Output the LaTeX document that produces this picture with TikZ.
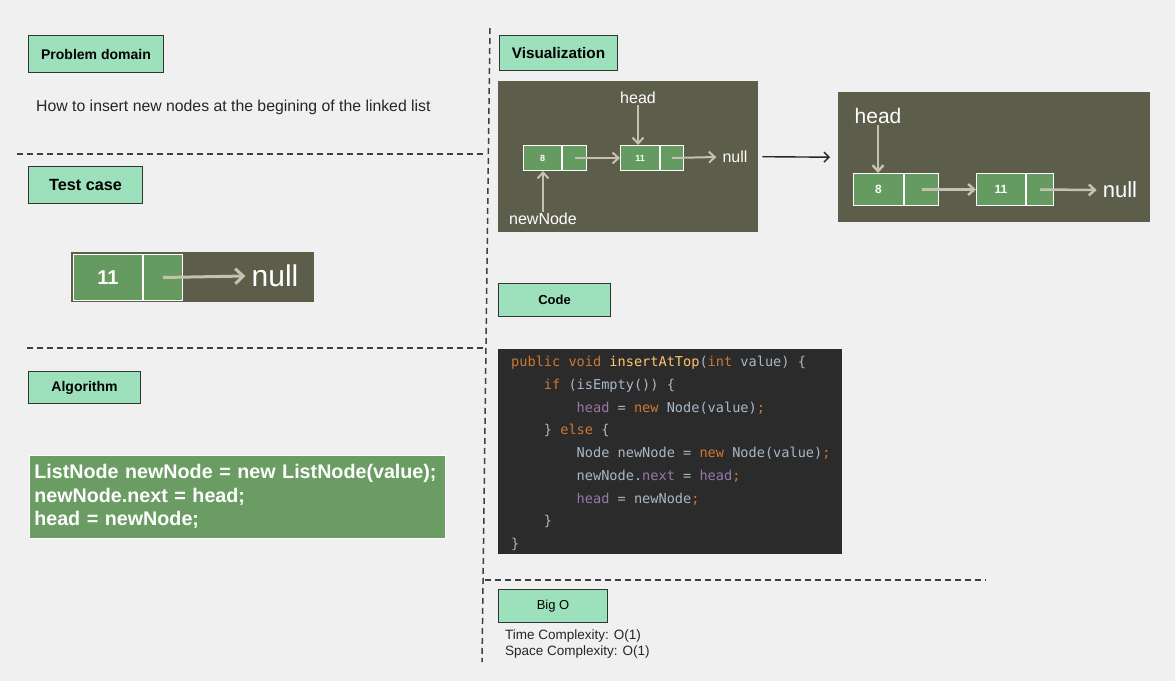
\documentclass[tikz,border=0pt]{standalone}
\usepackage{fontspec}
\setmainfont{Liberation Sans}
\setmonofont{DejaVu Sans Mono}
\usetikzlibrary{arrows.meta,positioning}

\definecolor{pagebg}{HTML}{F0F0F0}
\definecolor{tagmint}{HTML}{9DE0BC}
\definecolor{scenebg}{HTML}{5C5E4B}
\definecolor{cellgreen}{HTML}{659B60}
\definecolor{algogreen}{HTML}{6A9C64}
\definecolor{ptrgray}{HTML}{C2C2AE}
\definecolor{codebg}{HTML}{2B2B2B}
\definecolor{cdtxt}{HTML}{A9B7C6}
\definecolor{cdkw}{HTML}{CC7832}
\definecolor{cdfld}{HTML}{9876AA}
\definecolor{cdfn}{HTML}{FFC66D}

\newcommand{\kw}[1]{\textcolor{cdkw}{#1}}
\newcommand{\fld}[1]{\textcolor{cdfld}{#1}}
\newcommand{\fn}[1]{\textcolor{cdfn}{#1}}
\newcommand{\ind}[1]{\phantom{#1}}

\begin{document}
\begin{tikzpicture}[
    x=1pt, y=-1pt,
    tag/.style={draw=black!80, line width=1pt, fill=tagmint, anchor=north west, inner sep=0pt, font=\bfseries\fontsize{14}{16}\selectfont},
    scene/.style={fill=scenebg, anchor=north west, inner sep=0pt},
    cell/.style={draw=white, line width=1pt, fill=cellgreen, text=white, inner sep=0pt, font=\bfseries\fontsize{#1}{#1}\selectfont},
    cell/.default=9,
    ptr/.style={draw=ptrgray, line width=2pt, -{Straight Barb[length=6pt,width=11pt]}},
    lbl/.style={text=white, inner sep=1pt, font=\fontsize{#1}{#1}\selectfont},
    lbl/.default=16,
    dashline/.style={draw=black!75, line width=1.5pt, dash pattern=on 6pt off 4pt}
]
    \useasboundingbox[fill=pagebg] (0,0) rectangle (1175,681);

    % section borders
    \draw[dashline] (490,28) -- (482,662);
    \draw[dashline] (17,154) -- (487,154);
    \draw[dashline] (27,348) -- (485,348);
    \draw[dashline] (485,580) -- (986,580);

    % left column
    \node[tag, minimum width=135pt, minimum height=37pt] (prob) at (28,35) {Problem domain};
    \node[anchor=west, inner sep=0pt, text=black!85, font=\fontsize{15.8}{18}\selectfont] (probtxt) at (36,107) {How to insert new nodes at the begining of the linked list};

    \node[tag, minimum width=114pt, minimum height=37pt, font=\bfseries\fontsize{16.2}{18}\selectfont] (test) at (28,166) {Test case};
    \node[scene, minimum width=243pt, minimum height=50pt] (tbg) at (71,252) {};
    \node[cell=20, minimum width=69pt, minimum height=46pt, anchor=north west] (t11) at (73,254) {11};
    \node[cell, minimum width=39pt, minimum height=46pt, right=0pt of t11] (t11p) {};
    \node[lbl=30, inner sep=6pt] (tnull) at (275,276) {null};
    \draw[ptr, line width=3pt, -{Straight Barb[length=8pt,width=15pt]}] (t11p.center) -- (tnull.west);

    \node[tag, minimum width=112pt, minimum height=32pt] (algo) at (28,371) {Algorithm};
    \node[anchor=north west, fill=algogreen, draw=white!60, line width=0.6pt, minimum width=416pt, minimum height=83pt,
          text width=406pt, inner sep=5pt, align=left, text=white,
          font=\bfseries\fontsize{19.7}{23.5}\selectfont] (algobox) at (29,455)
        {ListNode newNode = new ListNode(value);\\newNode.next = head;\\head = newNode;};

    % visualization
    \node[tag, minimum width=118pt, minimum height=35pt, font=\bfseries\fontsize{15.3}{17}\selectfont] (vis) at (499,35) {Visualization};

    \node[scene, minimum width=260pt, minimum height=151pt] (vbg) at (498,81) {};
    \node[cell, minimum width=38pt, minimum height=25pt, anchor=north west] (v8) at (523,145) {8};
    \node[cell, minimum width=24pt, minimum height=25pt, right=0pt of v8] (v8p) {};
    \node[cell, minimum width=39pt, minimum height=25pt, anchor=north west] (v11) at (620,145) {11};
    \node[cell, minimum width=23pt, minimum height=25pt, right=0pt of v11] (v11p) {};
    \node[lbl] (vhead) at (638,98) {head};
    \node[lbl, inner sep=6pt] (vnull) at (735,157) {null};
    \node[lbl] (vnew) at (543,219) {newNode};
    \draw[ptr] (vhead.south) -- (vhead.south |- v11.north);
    \draw[ptr] (v8p.center) -- (v11.west);
    \draw[ptr] (v11p.center) -- (vnull.west);
    \draw[ptr] (vnew.north) -- (vnew.north |- v8.south);

    \node[scene, minimum width=312pt, minimum height=130pt] (wbg) at (838,92) {};
    \node[cell=12, minimum width=50pt, minimum height=32pt, anchor=north west] (w8) at (853,173) {8};
    \node[cell, minimum width=34pt, minimum height=32pt, right=0pt of w8] (w8p) {};
    \node[cell=12, minimum width=49pt, minimum height=32pt, anchor=north west] (w11) at (976,173) {11};
    \node[cell, minimum width=27pt, minimum height=32pt, right=0pt of w11] (w11p) {};
    \node[lbl=21] (whead) at (878,116) {head};
    \node[lbl=22, inner sep=6pt] (wnull) at (1120,190) {null};
    \draw[ptr, line width=2.5pt] (whead.south) -- (whead.south |- w8.north);
    \draw[ptr, line width=2.5pt] (w8p.center) -- (w11.west);
    \draw[ptr, line width=2.5pt] (w11p.center) -- (wnull.west);

    \draw[black!85, line width=1.4pt, -{Straight Barb[length=5pt,width=10pt]}] ([xshift=4pt]vbg.east) -- ([xshift=-8pt]wbg.west);

    % code
    \node[tag, minimum width=112pt, minimum height=33pt, font=\bfseries\fontsize{13}{15}\selectfont] (code) at (498,283) {Code};
    \node[scene, fill=codebg, minimum width=344pt, minimum height=205pt] (cbg) at (498,349) {};
    \node[anchor=north west, inner sep=0pt, align=left, text=cdtxt, font=\ttfamily\fontsize{13.6}{22.75}\selectfont] (ctxt) at (511,356)
        {\kw{public void} \fn{insertAtTop}(\kw{int} value) \{\\
         \ind{0000}\kw{if} (isEmpty()) \{\\
         \ind{00000000}\fld{head} = \kw{new} Node(value)\kw{;}\\
         \ind{0000}\} \kw{else} \{\\
         \ind{00000000}Node newNode = \kw{new} Node(value)\kw{;}\\
         \ind{00000000}newNode.\fld{next} = \fld{head}\kw{;}\\
         \ind{00000000}\fld{head} = newNode\kw{;}\\
         \ind{0000}\}\\
         \}};

    % big o
    \node[tag, minimum width=109pt, minimum height=33pt, font=\fontsize{13}{15}\selectfont] (bigo) at (498,589) {Big O};
    \node[anchor=north west, inner sep=0pt, align=left, text=black!85, font=\fontsize{13.5}{16}\selectfont] (bigotxt) at (505,630)
        {Time Complexity: O(1)\\Space Complexity: O(1)};
\end{tikzpicture}
\end{document}
